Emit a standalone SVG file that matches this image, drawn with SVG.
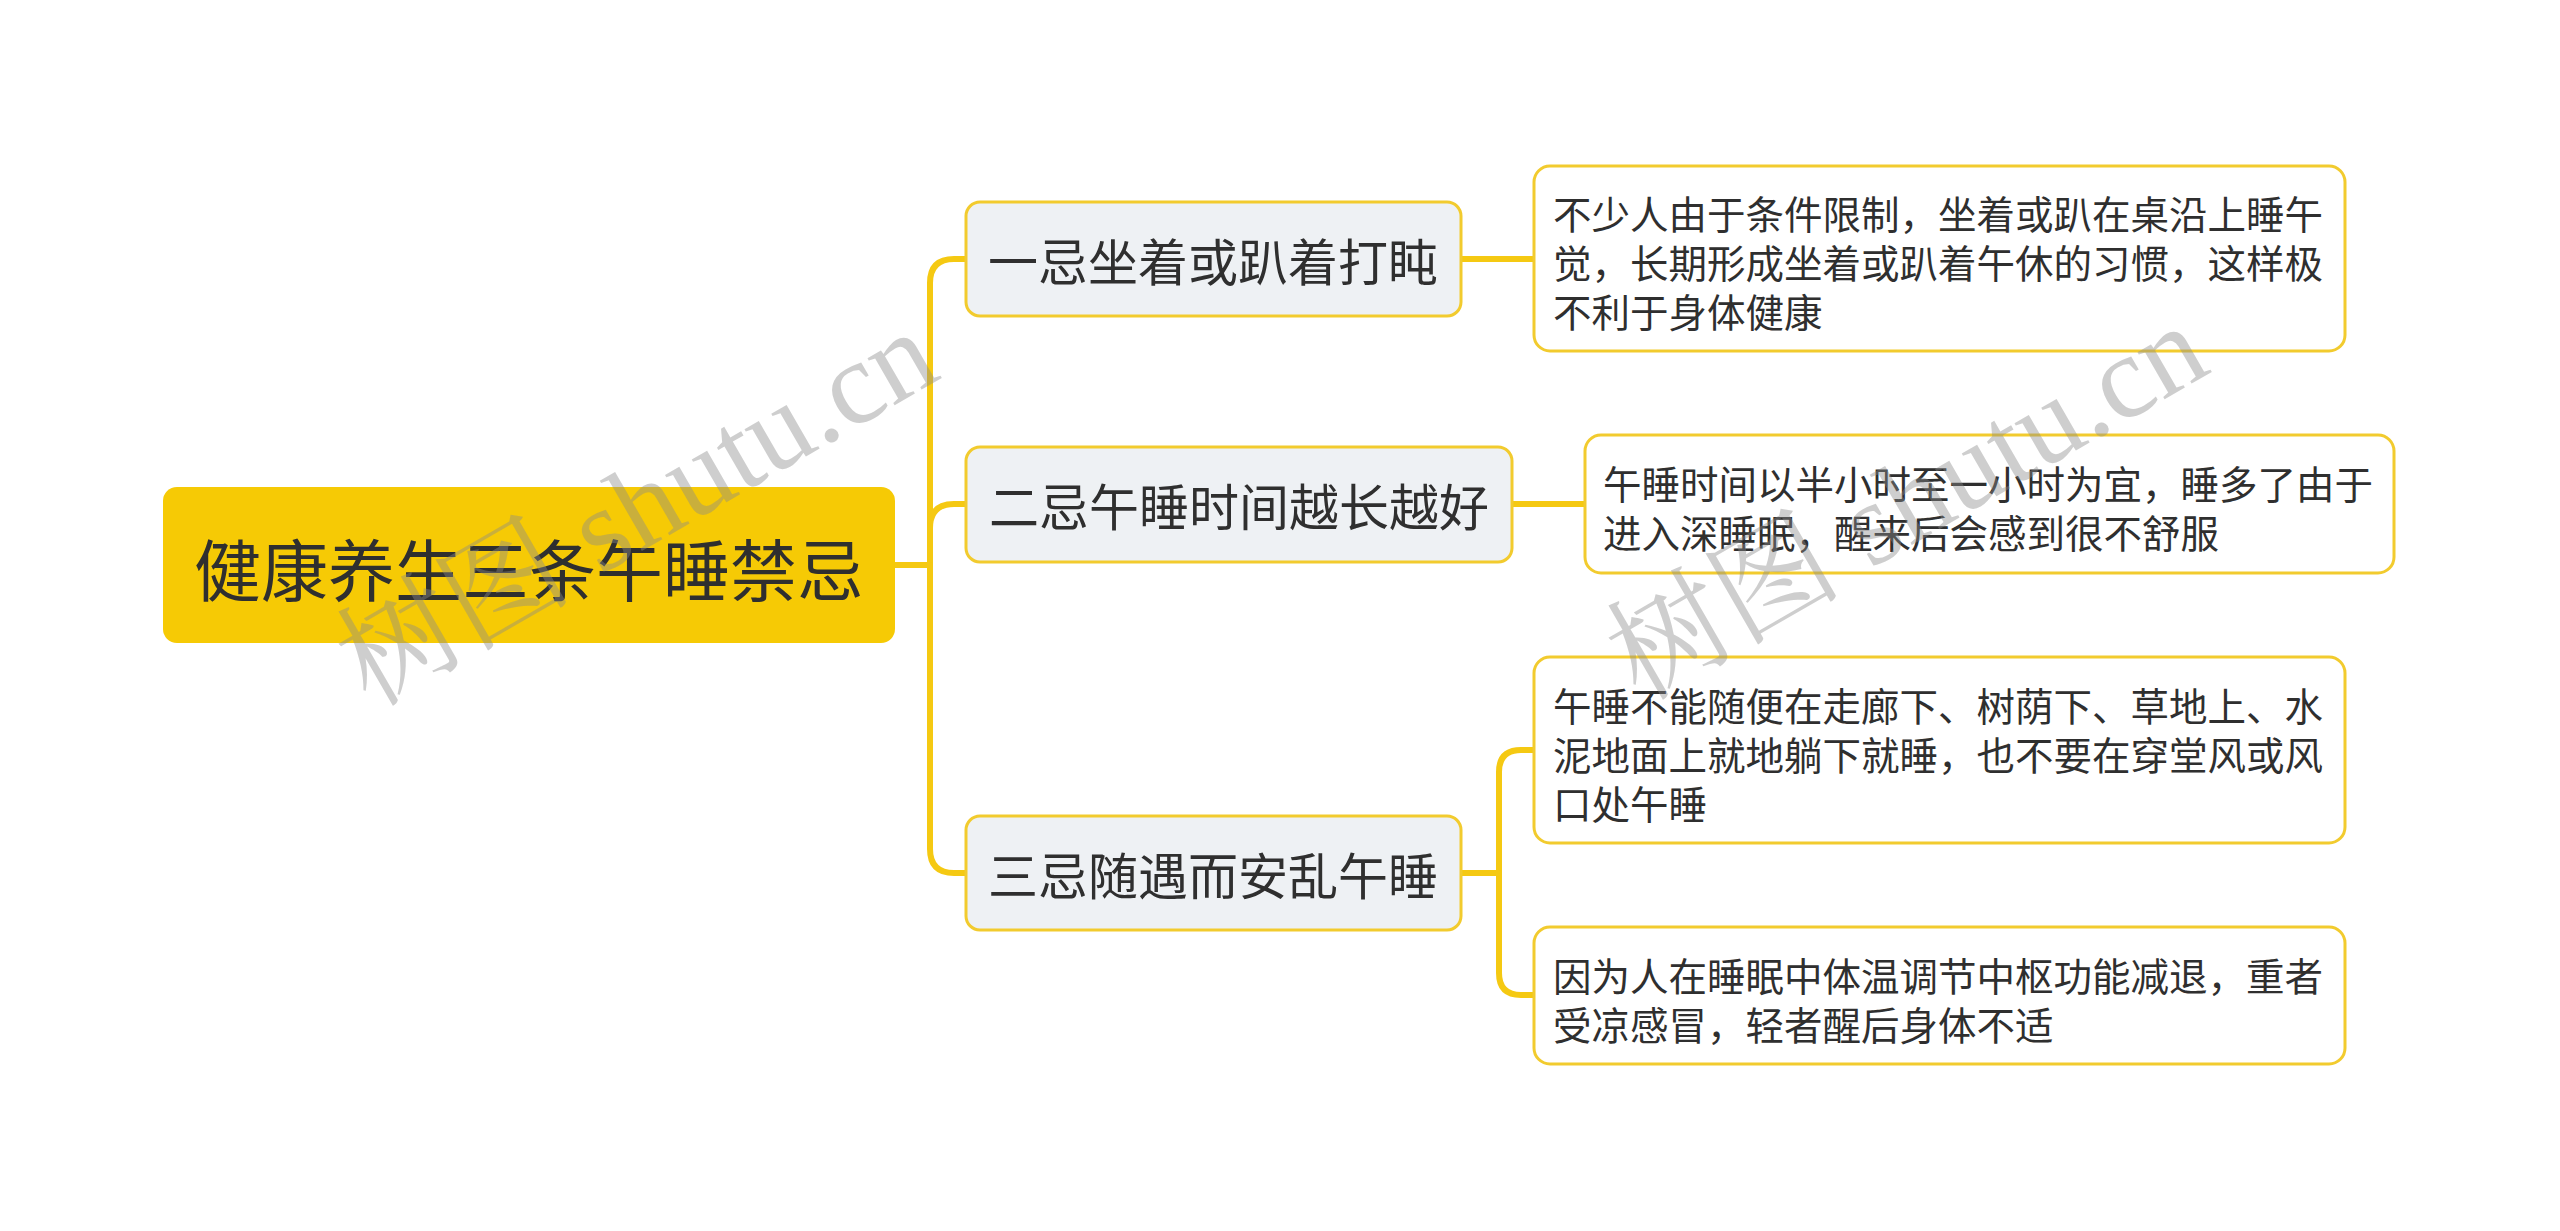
<svg xmlns="http://www.w3.org/2000/svg" width="2560" height="1231" viewBox="0 0 2560 1231">
<style>
.t{font-family:"Noto Sans CJK SC","Noto Sans",sans-serif;fill:#2f2f2f;dominant-baseline:central}
.root{fill:#F6CA05}
.br{fill:#EEF1F4;stroke:#F2CB2E;stroke-width:3}
.lf{fill:#FFFFFF;stroke:#F2CB2E;stroke-width:3}
.c{fill:none;stroke:#F5C912;stroke-width:6;stroke-linecap:butt;stroke-linejoin:round}
.wm{font-family:"Liberation Serif","Noto Serif CJK SC","Noto Sans CJK SC",serif;font-size:118px;fill:#8a8a8a;fill-opacity:0.42}
</style>
<rect width="2560" height="1231" fill="#FFFFFF"/>
<g id="connectors">
<path class="c" d="M895 565 H930 V283 Q930 259 954 259 H966"/>
<path class="c" d="M895 565 H930 V528 Q930 504 954 504 H966"/>
<path class="c" d="M895 565 H930 V849 Q930 873 954 873 H966"/>
<path class="c" d="M1461 259 H1534"/>
<path class="c" d="M1512 504 H1585"/>
<path class="c" d="M1461 873 H1499 V772 Q1499 750 1521 750 H1534"/>
<path class="c" d="M1461 873 H1499 V973 Q1499 995 1521 995 H1534"/>
</g>
<g id="root">
<rect class="root" x="163" y="487" width="732" height="156" rx="14"/>
<text class="t" x="529" y="566" font-size="67" text-anchor="middle">健康养生三条午睡禁忌</text>
</g>
<g id="branch1">
<rect class="br" x="966" y="202" width="495" height="114" rx="14"/>
<text class="t" x="1213" y="259" font-size="50" text-anchor="middle">一忌坐着或趴着打盹</text>
</g>
<g id="branch2">
<rect class="br" x="966" y="447" width="546" height="115" rx="14"/>
<text class="t" x="1239" y="504" font-size="50" text-anchor="middle">二忌午睡时间越长越好</text>
</g>
<g id="branch3">
<rect class="br" x="966" y="816" width="495" height="114" rx="14"/>
<text class="t" x="1213" y="873" font-size="50" text-anchor="middle">三忌随遇而安乱午睡</text>
</g>
<g id="leaf1">
<rect class="lf" x="1534" y="166" width="811" height="185" rx="16"/>
<text class="t" font-size="38.5"><tspan x="1553" y="212">不少人由于条件限制，坐着或趴在桌沿上睡午</tspan><tspan x="1553" y="261">觉，长期形成坐着或趴着午休的习惯，这样极</tspan><tspan x="1553" y="310">不利于身体健康</tspan></text>
</g>
<g id="leaf2">
<rect class="lf" x="1585" y="435" width="809" height="138" rx="16"/>
<text class="t" font-size="38.5"><tspan x="1603" y="482">午睡时间以半小时至一小时为宜，睡多了由于</tspan><tspan x="1603" y="531">进入深睡眠，醒来后会感到很不舒服</tspan></text>
</g>
<g id="leaf3">
<rect class="lf" x="1534" y="657" width="811" height="186" rx="16"/>
<text class="t" font-size="38.5"><tspan x="1553" y="704">午睡不能随便在走廊下、树荫下、草地上、水</tspan><tspan x="1553" y="753">泥地面上就地躺下就睡，也不要在穿堂风或风</tspan><tspan x="1553" y="802">口处午睡</tspan></text>
</g>
<g id="leaf4">
<rect class="lf" x="1534" y="927" width="811" height="137" rx="16"/>
<text class="t" font-size="38.5"><tspan x="1553" y="974">因为人在睡眠中体温调节中枢功能减退，重者</tspan><tspan x="1553" y="1023">受凉感冒，轻者醒后身体不适</tspan></text>
</g>
<g id="watermarks">
<text class="wm" transform="translate(370 708) rotate(-30)">树图 shutu.cn</text>
<text class="wm" transform="translate(1640 702) rotate(-30)">树图 shutu.cn</text>
</g>
</svg>
